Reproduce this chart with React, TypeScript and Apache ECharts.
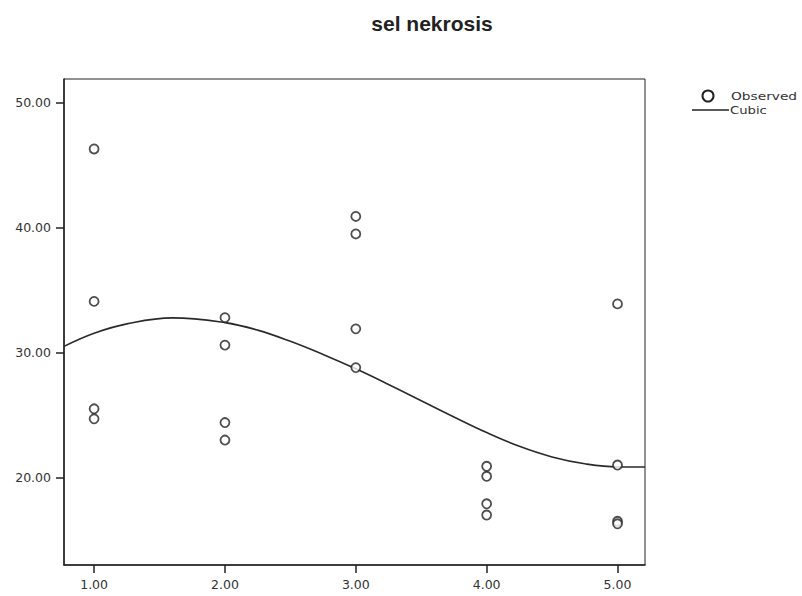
import React, { useEffect, useRef } from "react";
import * as echarts from "echarts";

const titleText = "sel nekrosis";
const legendObserved = "Observed";
const legendCubic = "Cubic";
const observedX = [1, 1, 1, 1, 2, 2, 2, 2, 3, 3, 3, 3, 4, 4, 4, 4, 5, 5, 5, 5];
const observedY = [46.3, 34.1, 25.5, 24.7, 32.8, 30.6, 24.4, 23.0, 40.9, 39.5, 31.9, 28.8, 20.9, 20.1, 17.9, 17.0, 33.9, 21.0, 16.5, 16.3];
const cubicX = [0.77, 1.0, 1.25, 1.6, 2.0, 2.25, 2.5, 2.75, 3.0, 3.25, 3.5, 3.75, 4.0, 4.25, 4.5, 4.75, 5.0, 5.21];
const cubicY = [30.5, 31.55, 32.3, 32.78, 32.4, 31.8, 30.9, 29.85, 28.7, 27.45, 26.15, 24.85, 23.6, 22.5, 21.65, 21.1, 20.85, 20.85];
const xTicks = [1, 2, 3, 4, 5];
const yTicks = [20, 30, 40, 50];

export default function App() {
  const ref = useRef<HTMLDivElement>(null);
  useEffect(() => {
    if (!ref.current) return;
    const chart = echarts.init(ref.current, null, { renderer: "svg" });
    const labelFont = { fontFamily: "DejaVu Sans", fontSize: 12.5, color: "#333" };
    chart.setOption({
      animation: false,
      backgroundColor: "#fff",
      title: {
        text: titleText,
        left: 427,
        top: 8,
        textAlign: "center",
        textStyle: { fontFamily: "Liberation Sans", fontWeight: "bold", fontSize: 21, color: "#222" },
      },
      graphic: [
        { type: "circle", shape: { cx: 708, cy: 96, r: 5.5 }, style: { fill: "#fff", stroke: "#222", lineWidth: 2 } },
        { type: "text", x: 731, y: 96, scaleX: 1.25, style: { text: legendObserved, fontFamily: "DejaVu Sans", fontSize: 11, fill: "#333", verticalAlign: "middle" } },
        { type: "line", shape: { x1: 692, y1: 110, x2: 729, y2: 110 }, style: { stroke: "#222", lineWidth: 1.5 } },
        { type: "text", x: 730, y: 110, scaleX: 1.2, style: { text: legendCubic, fontFamily: "DejaVu Sans", fontSize: 11, fill: "#333", verticalAlign: "middle" } },
      ],
      grid: { left: 64, top: 79, right: 157, bottom: 31, show: true, borderColor: "#222", borderWidth: 1, backgroundColor: "#fff" },
      xAxis: {
        type: "value",
        min: 0.77,
        max: 5.21,
        axisLine: { onZero: false, lineStyle: { color: "#222", width: 1.5 } },
        axisTick: { show: true, length: 8, customValues: xTicks, lineStyle: { color: "#222", width: 1.5 } },
        axisLabel: { ...labelFont, margin: 13, customValues: xTicks, formatter: (v: number) => v.toFixed(2) },
        splitLine: { show: false },
      },
      yAxis: {
        type: "value",
        min: 13.0,
        max: 51.9,
        axisLine: { onZero: false, lineStyle: { color: "#222", width: 1.5 } },
        axisTick: { show: true, length: 8, customValues: yTicks, lineStyle: { color: "#222", width: 1.5 } },
        axisLabel: { ...labelFont, margin: 13, customValues: yTicks, formatter: (v: number) => v.toFixed(2) },
        splitLine: { show: false },
      },
      series: [
        {
          name: legendObserved,
          type: "scatter",
          symbol: "circle",
          symbolSize: 9,
          itemStyle: { color: "#fff", borderColor: "#222", borderWidth: 1.8 },
          data: observedX.map((x, i) => [x, observedY[i]]),
          z: 3,
        },
        {
          name: legendCubic,
          type: "line",
          smooth: 0.4,
          symbol: "none",
          lineStyle: { color: "#2a2a2a", width: 1.6 },
          itemStyle: { color: "#2a2a2a" },
          data: cubicX.map((x, i) => [x, cubicY[i]]),
          z: 2,
        },
      ],
    });
    return () => chart.dispose();
  }, []);
  return <div ref={ref} style={{ width: 802, height: 596, position: "absolute", left: 0, top: 0 }} />;
}
